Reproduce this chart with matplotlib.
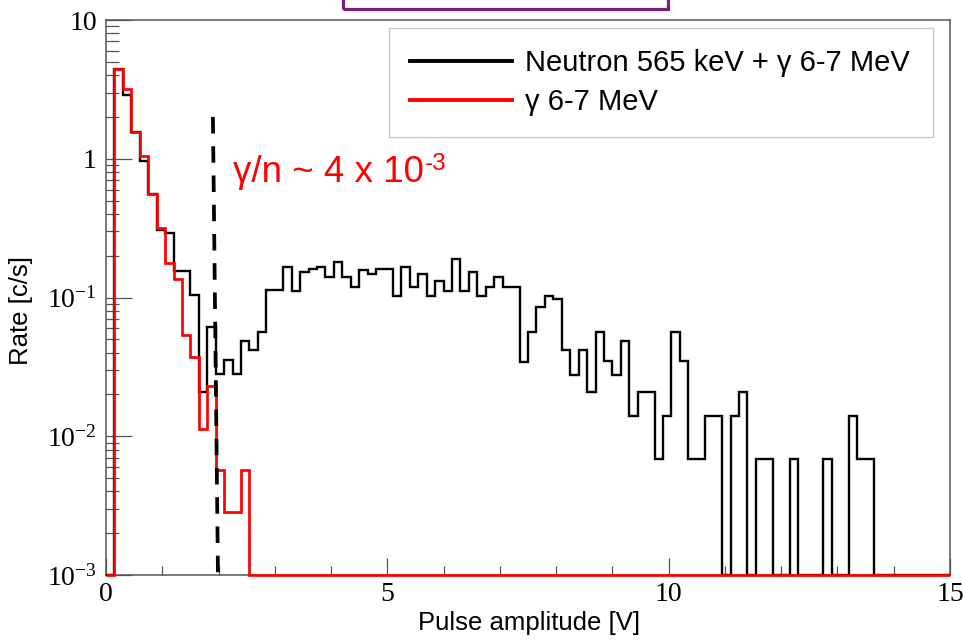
import numpy as np
import matplotlib
matplotlib.use("Agg")
import matplotlib.pyplot as plt
from matplotlib.lines import Line2D
from matplotlib.patches import Rectangle
from matplotlib.ticker import MultipleLocator, LogLocator, NullFormatter

# 100 bins of 0.15 V between 0 and 15 V
bin_edges = np.linspace(0, 15, 101)

# rate [c/s] per bin
neutron_gamma = [
    0, 4.44, 2.9, 1.57, 0.97, 0.553, 0.305, 0.294, 0.154, 0.154,
    0.104, 0.021, 0.0615, 0.0279, 0.0352, 0.0279, 0.0488, 0.0418, 0.056, 0.113,
    0.113, 0.166, 0.112, 0.153, 0.160, 0.166, 0.141, 0.181, 0.141, 0.119,
    0.159, 0.147, 0.160, 0.160, 0.102, 0.166, 0.119, 0.147, 0.102, 0.132,
    0.112, 0.188, 0.112, 0.153, 0.102, 0.119, 0.141, 0.119, 0.119, 0.0345,
    0.056, 0.0848, 0.103, 0.0973, 0.0418, 0.0276, 0.0418, 0.0207, 0.056, 0.0351,
    0.0276, 0.0488, 0.0139, 0.021, 0.021, 0.00687, 0.0139, 0.056, 0.0351, 0.00687,
    0.00687, 0.0139, 0.0139, 0, 0.0139, 0.021, 0, 0.00687, 0.00687, 0,
    0, 0.00687, 0, 0, 0, 0.00687, 0, 0, 0.0139, 0.00687,
    0.00687, 0, 0, 0, 0, 0, 0, 0, 0, 0,
]
gamma_only = [
    0, 4.44, 3.19, 1.57, 1.05, 0.553, 0.319, 0.176, 0.137, 0.0536,
    0.0374, 0.0113, 0.023, 0.00573, 0.00283, 0.00283, 0.00567, 0, 0, 0,
    0, 0, 0, 0, 0, 0, 0, 0, 0, 0,
    0, 0, 0, 0, 0, 0, 0, 0, 0, 0,
    0, 0, 0, 0, 0, 0, 0, 0, 0, 0,
    0, 0, 0, 0, 0, 0, 0, 0, 0, 0,
    0, 0, 0, 0, 0, 0, 0, 0, 0, 0,
    0, 0, 0, 0, 0, 0, 0, 0, 0, 0,
    0, 0, 0, 0, 0, 0, 0, 0, 0, 0,
    0, 0, 0, 0, 0, 0, 0, 0, 0, 0,
]
series_labels = ["Neutron 565 keV + γ 6-7 MeV", "γ 6-7 MeV"]

# hand drawn cut line
cut_x = [1.90, 1.99]
cut_y = [2.0, 1e-3]

x_ticks = [0, 5, 10, 15]
x_tick_labels = ["0", "5", "10", "15"]
y_ticks = [1e-3, 1e-2, 1e-1, 1, 10]
y_tick_labels = [r"$\mathregular{10^{-3}}$", r"$\mathregular{10^{-2}}$",
                 r"$\mathregular{10^{-1}}$", "1", "10"]

ymin, ymax = 1e-3, 10

fig = plt.figure(figsize=(9.63, 6.42), dpi=100)
ax = fig.add_axes([106 / 963, 67 / 642, 844 / 963, 555 / 642])

black = np.array(neutron_gamma, dtype=float)
red = np.array(gamma_only, dtype=float)
ax.stairs(np.where(black > 0, black, ymin), bin_edges, baseline=None,
          color="black", lw=1.7, zorder=3, clip_on=False)
ax.stairs(np.where(red > 0, red, ymin), bin_edges, baseline=None,
          color="#ff0000", lw=1.95, zorder=4, clip_on=False)

ax.plot(cut_x, cut_y, color="black", lw=2.7, dashes=(4.4, 3.4), zorder=5)

ax.set_yscale("log")
ax.set_xlim(0, 15)
ax.set_ylim(ymin, ymax)

ax.set_xticks(x_ticks, x_tick_labels, fontfamily="Liberation Serif", fontsize=20)
ax.set_yticks(y_ticks, y_tick_labels, fontfamily="Liberation Serif", fontsize=20)
ax.xaxis.set_minor_locator(MultipleLocator(1))
ax.yaxis.set_minor_locator(LogLocator(base=10, subs=range(2, 10)))
ax.yaxis.set_minor_formatter(NullFormatter())

ax.tick_params(which="both", direction="in", color="#555555", width=0.9,
               top=False, right=False)
ax.tick_params(axis="x", which="major", length=12.2, pad=5)
ax.tick_params(axis="x", which="minor", length=6.5)
ax.tick_params(axis="y", which="major", length=18.7, pad=6.5)
ax.tick_params(axis="y", which="minor", length=9.4)
for s in ax.spines.values():
    s.set_color("#555555")
    s.set_linewidth(1.1)

ax.set_xlabel("Pulse amplitude [V]", fontfamily="Liberation Sans", fontsize=18.5)
ax.set_ylabel("Rate [c/s]", fontfamily="Liberation Sans", fontsize=18.5)
ax.xaxis.label.set_va("center")
ax.yaxis.label.set_va("center")
ax.xaxis.set_label_coords(0.5018, -0.0865)
ax.yaxis.set_label_coords(-0.1007, 0.4757)

t = ax.text(2.25, 0.683, "γ/n ~ 4 x 10", color="#ff0000", fontsize=26.5,
            fontfamily="Liberation Sans", va="baseline", ha="left")
ax.annotate("-3", xy=(1, 1), xycoords=t, xytext=(1, 2), textcoords="offset pixels",
            va="top", ha="left", color="#ff0000", fontsize=17.5,
            fontfamily="Liberation Sans")

handles = [Line2D([], [], color="black", lw=2.8), Line2D([], [], color="#ff0000", lw=2.8)]
leg = ax.legend(handles, series_labels, loc="upper left",
                bbox_to_anchor=(389 / 963, 1 - 137 / 642, 544 / 963, 109 / 642),
                bbox_transform=fig.transFigure, mode="expand", borderaxespad=0,
                prop={"family": "Liberation Sans", "size": 21},
                handlelength=3.49, handletextpad=0.45, borderpad=0.72,
                labelspacing=0.39, fancybox=False, framealpha=1,
                edgecolor="#c8c8c8")
leg.get_frame().set_linewidth(1.0)

# purple frame sticking in from the top of the slide
fig.add_artist(Rectangle((342.7 / 963, 1 - 9.3 / 642), 325.3 / 963, 0.05,
                         transform=fig.transFigure, fill=False,
                         edgecolor="#7b1f7b", lw=2.3))

fig.savefig("out.png", dpi=100)
